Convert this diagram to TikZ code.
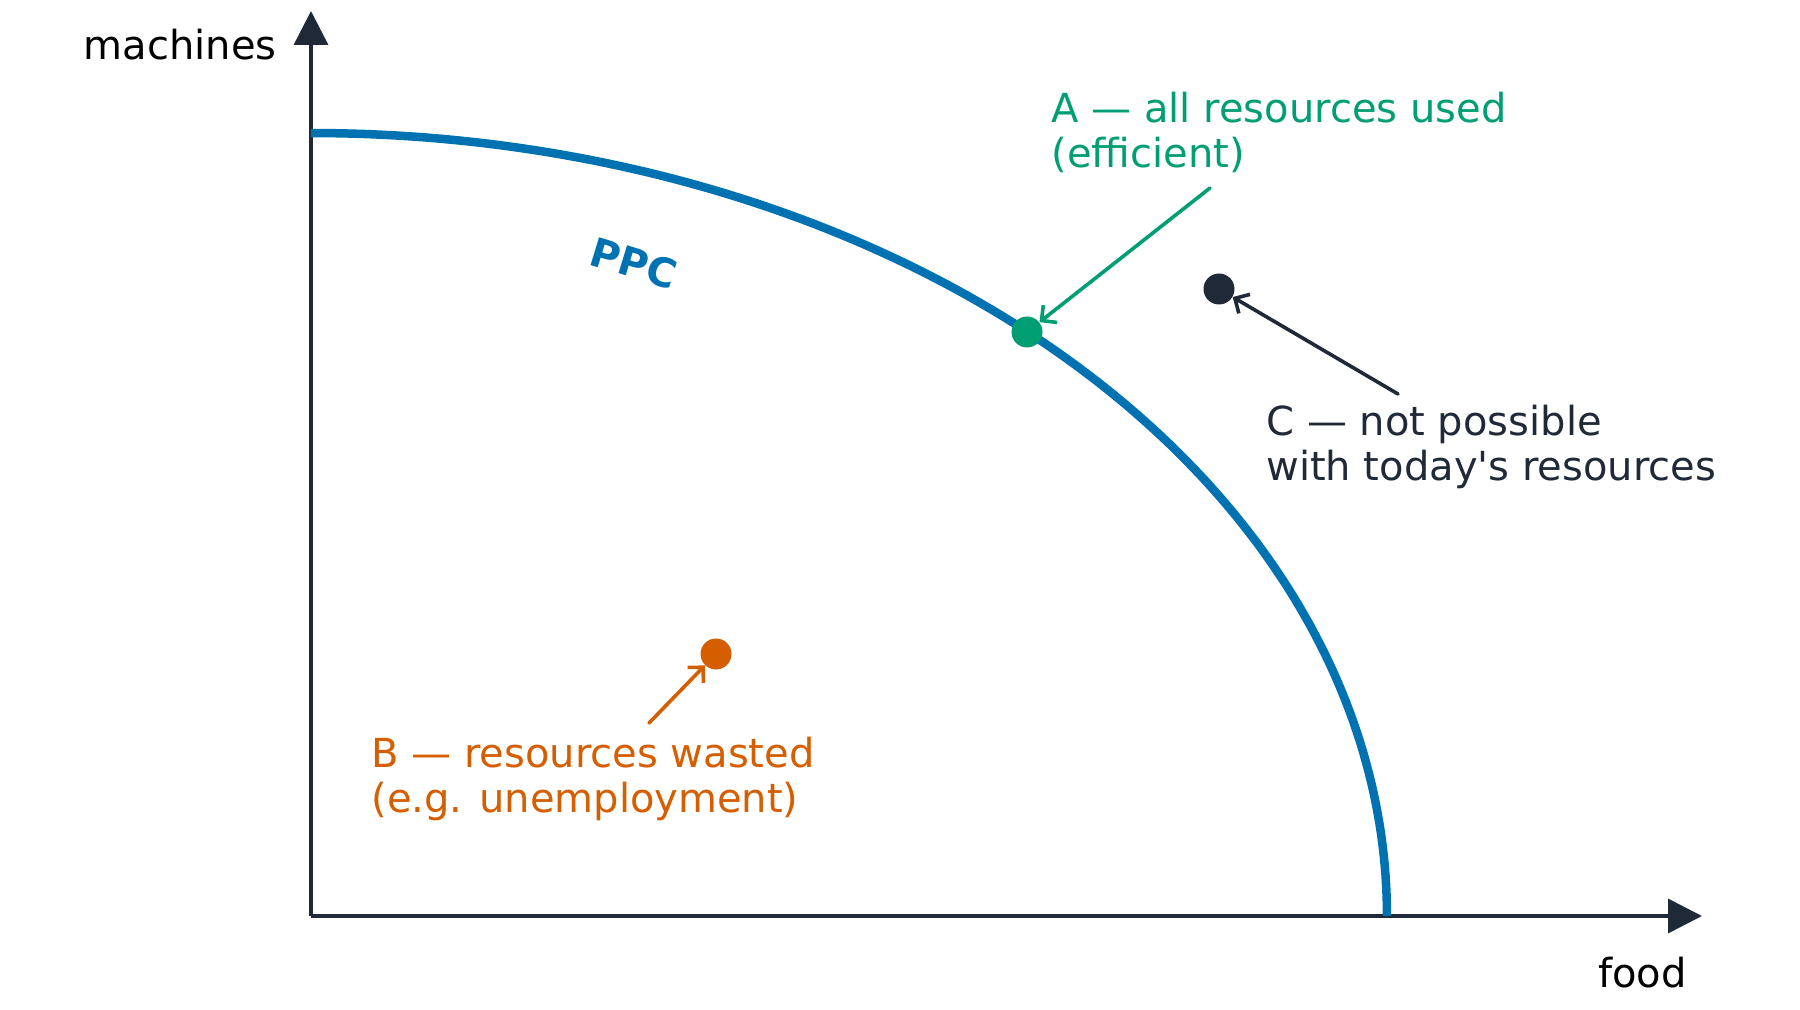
\documentclass[tikz,border=0pt]{standalone}
\usepackage{fontspec}
\setmainfont{DejaVu Sans}[Ligatures=TeXOff]
\usetikzlibrary{arrows.meta}
\definecolor{ppcblue}{HTML}{0072B2}
\definecolor{effgreen}{HTML}{009E73}
\definecolor{wasteorange}{HTML}{D55E00}
\definecolor{axisdark}{HTML}{1F2937}
\begin{document}
\begin{tikzpicture}[x=0.5pt,y=-0.5pt,
  axisline/.style={draw=axisdark, line width=1.75pt, -{Triangle[length=17pt,width=17pt]}},
  curveline/.style={draw=ppcblue, line width=4.25pt},
  dot/.style={circle, inner sep=0pt, minimum size=15.5pt},
  lbl/.style={anchor=base west, align=left, inner sep=0pt, font=\fontsize{20}{22.5}\selectfont},
  pointer/.style={line width=1.8pt, line cap=round, -{Straight Barb[length=5.5pt,width=11pt]}},
]
\useasboundingbox (0,0) rectangle (1800,1010);
\coordinate (O) at (311,916);
\coordinate (ytip) at (311,11);
\coordinate (xtip) at (1702,916);
\draw[axisline] (O) -- (ytip);
\draw[axisline] (O) -- (xtip);
\draw[curveline] plot[domain=90:0, samples=120] ({311+1076*cos(\x)}, {916-783*sin(\x)});
\node[lbl, anchor=base east, text=black] (ylabel) at (277,60) {machines};
\node[lbl, anchor=base east, text=black] (xlabel) at (1687,987) {food};
\node[font=\bfseries\fontsize{20}{24}\selectfont, text=ppcblue, rotate=-17] (ppclabel) at (634,263) {PPC};
\node[lbl, text=effgreen] (Alabel) at (1051,168) {A — all resources used\\(efficient)};
\node[lbl, text=axisdark] (Clabel) at (1266,481) {C — not possible\\with today's resources};
\node[lbl, text=wasteorange] (Blabel) at (371,812) {B — resources wasted\\(e.g. unemployment)};
\node[dot, fill=effgreen] (ptA) at (1027,332) {};
\node[dot, fill=axisdark] (ptC) at (1219,289) {};
\node[dot, fill=wasteorange] (ptB) at (716,654) {};
\coordinate (Astart) at (1210,188);
\coordinate (Cstart) at (1398,394);
\coordinate (Bstart) at (649,723);
\draw[pointer, effgreen] (Astart) -- (ptA);
\draw[pointer, axisdark] (Cstart) -- (ptC);
\draw[pointer, wasteorange] (Bstart) -- (ptB);
\end{tikzpicture}
\end{document}
